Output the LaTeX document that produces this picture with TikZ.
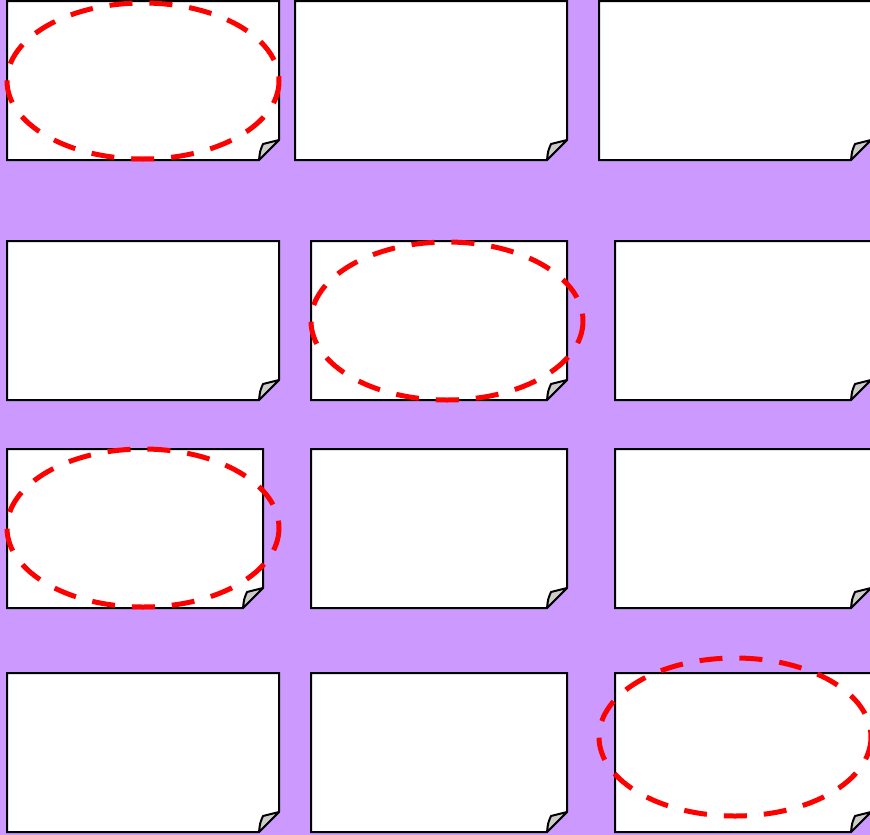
\documentclass[tikz,border=0pt]{standalone}
\usepackage{tikz}
\usetikzlibrary{calc}
\definecolor{sheetbg}{RGB}{204,153,255}
% one sheet with a turned-down corner: left, top, right, bottom
\newcommand{\dogpage}[4]{
  \draw[pageedge] (#1,#2) -- (#3,#2) -- (#3,#4-20) -- (#3-20,#4)
    -- (#1,#4) -- cycle;
  \draw[pagefold] (#3-20,#4) .. controls (#3-19,#4-9) .. (#3-16,#4-16)
    -- (#3,#4-20) -- cycle;
}
\begin{document}
\begin{tikzpicture}[x=1pt, y=-1pt,
    pageedge/.style={draw=black, line width=2pt, fill=white},
    pagefold/.style={draw=black, line width=2pt, fill=black!20,
                     line join=round},
    ringmark/.style={draw=red, line width=5pt,
                     dash pattern=on 23pt off 17pt}]
    \useasboundingbox (0,0) rectangle (870,835);
    \clip (0,0) rectangle (870,835);
    \fill[sheetbg] (0,0) rectangle (870,835);
    % row 1
    \dogpage{7}{1}{279}{160}
    \dogpage{295}{1}{567}{160}
    \dogpage{599}{1}{871}{160}
    % row 2
    \dogpage{7}{241}{279}{400}
    \dogpage{311}{241}{567}{400}
    \dogpage{615}{241}{871}{400}
    % row 3
    \dogpage{7}{449}{263}{608}
    \dogpage{311}{449}{567}{608}
    \dogpage{615}{449}{871}{608}
    % row 4
    \dogpage{7}{673}{279}{832}
    \dogpage{311}{673}{567}{832}
    \dogpage{615}{673}{871}{832}
    % marked sheets
    \draw[ringmark] (143,81) ellipse [x radius=136, y radius=78];
    \draw[ringmark] (447,321) ellipse [x radius=136, y radius=79];
    \draw[ringmark] (143,528) ellipse [x radius=136, y radius=79];
    \draw[ringmark] (735,737) ellipse [x radius=136, y radius=79];
\end{tikzpicture}
\end{document}
